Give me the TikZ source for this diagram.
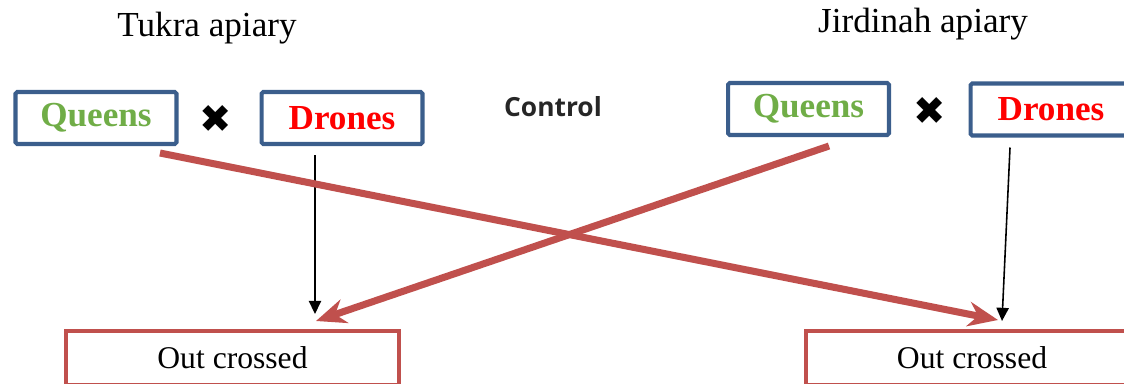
\documentclass[tikz,border=0pt]{standalone}
\usepackage{fontspec}
\setmainfont{Liberation Serif}
\newfontfamily\ctrlfont{Open Sans}
\newfontfamily\symfont{DejaVu Sans}
\usetikzlibrary{arrows.meta}
\definecolor{myblue}{RGB}{59,94,140}
\definecolor{myred}{RGB}{192,80,77}
\definecolor{mygreen}{RGB}{112,173,71}
\tikzstyle{parent} = [draw=myblue,line width=2.3pt,rounded corners=1pt,minimum width=3.22cm,minimum height=1.04cm,font=\fontsize{20}{23}\selectfont\bfseries]
\tikzstyle{offspring} = [draw=myred,line width=2.3pt,minimum width=6.66cm,minimum height=1.08cm,font=\fontsize{18}{21}\selectfont]
\tikzstyle{arrow} = [line width=0.9pt,-{Triangle[length=7.5pt,width=7pt]}]
\tikzstyle{cross} = [myred,line width=4pt,-{Stealth[length=17pt,width=14pt]}]
\tikzstyle{mate} = [font=\symfont\fontsize{22}{22}\selectfont]
\tikzstyle{apiary} = [font=\fontsize{20}{23}\selectfont]

\begin{document}
\begin{tikzpicture}[x=0.02cm,y=-0.02cm]
        \useasboundingbox (0,0) rectangle (1124,383);
        \clip (0,0) rectangle (1124,383);
        % apiaries
        \node[apiary] (tukra) at (207,28) {Tukra apiary};
        \node[apiary] (jird) at (923,24) {Jirdinah apiary};
        \node[font=\ctrlfont\bfseries\fontsize{15}{18}\selectfont,text=black!85] (ctrl) at (553,107) {Control};
        % parents
        \node[parent,text=mygreen] (ql) at (96,118) {Queens};
        \node[mate] (xl) at (216,119) {✖};
        \node[parent,text=red] (dl) at (342,118) {Drones};
        \node[parent,text=mygreen] (qr) at (808.5,109) {Queens};
        \node[mate] (xr) at (930,111) {✖};
        \node[parent,text=red] (dr) at (1051,109.5) {Drones};
        % offspring
        \node[offspring] (ol) at (232.5,358) {Out crossed};
        \node[offspring] (or) at (972,358) {Out crossed};
        % arrows
        \draw[arrow] ([xshift=-0.54cm,yshift=-0.18cm]dl.south) -- ([xshift=1.65cm,yshift=0.3cm]ol.north);
        \draw[arrow] ([xshift=-0.82cm,yshift=-0.2cm]dr.south) -- ([xshift=0.6cm,yshift=0.16cm]or.north);
        \draw[cross] ([xshift=1.28cm,yshift=-0.14cm]ql.south) -- ([xshift=0.52cm,yshift=0.18cm]or.north);
        \draw[cross] ([xshift=0.41cm,yshift=-0.18cm]qr.south) -- ([xshift=1.67cm,yshift=0.16cm]ol.north);
\end{tikzpicture}
\end{document}
